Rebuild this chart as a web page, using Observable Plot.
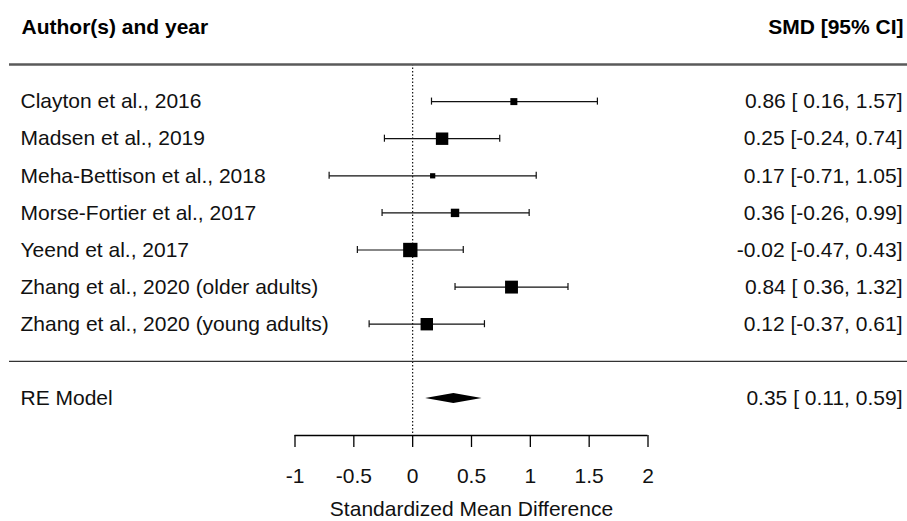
<!DOCTYPE html>
<html>
<head>
<meta charset="utf-8">
<script src="https://cdn.jsdelivr.net/npm/d3@7"></script>
<script src="https://cdn.jsdelivr.net/npm/@observablehq/plot@0.6"></script>
<style>
  html, body { margin: 0; padding: 0; background: #fff; }
  #chart svg { display: block; }
</style>
</head>
<body>
<div id="chart"></div>
<script>
// ---- data ----
const studies = [
  "Clayton et al., 2016",
  "Madsen et al., 2019",
  "Meha-Bettison et al., 2018",
  "Morse-Fortier et al., 2017",
  "Yeend et al., 2017",
  "Zhang et al., 2020 (older adults)",
  "Zhang et al., 2020 (young adults)"
];
const smd   = [0.86, 0.25, 0.17, 0.36, -0.02, 0.84, 0.12];
const lower = [0.16, -0.24, -0.71, -0.26, -0.47, 0.36, -0.37];
const upper = [1.57, 0.74, 1.05, 0.99, 0.43, 1.32, 0.61];
const weights = [8.5, 17.7, 5.5, 10.9, 21.0, 18.5, 17.7]; // % weight (square size)

const reLabel = "RE Model";
const reEst = 0.35, reLower = 0.11, reUpper = 0.59;

const xTicks = [-1, -0.5, 0, 0.5, 1, 1.5, 2];
const headerLeft = "Author(s) and year";
const headerRight = "SMD [95% CI]";
const xLabel = "Standardized Mean Difference";

// ---- build tables ----
const fmt = v => v.toFixed(2);
const padFmt = v => (v >= 0 ? " " : "") + v.toFixed(2);
const ciText = (e, l, u) => `${fmt(e)} [${padFmt(l)}, ${fmt(u)}]`;

const rows = studies.map((s, i) => ({
  study: s, smd: smd[i], lower: lower[i], upper: upper[i], w: weights[i], row: i + 1,
  label: ciText(smd[i], lower[i], upper[i])
}));
const nRows = studies.length;
const sepRow = nRows + 1;
const reRow = nRows + 2;
const axisRow = nRows + 3;
const headerRow = -1;
const labelRow = axisRow + 2;

const capH = 0.095;
const diaH = 0.135;
const diamond = [
  {x: reLower, y1: reRow, y2: reRow},
  {x: reEst, y1: reRow - diaH, y2: reRow + diaH},
  {x: reUpper, y1: reRow, y2: reRow}
];
const re = [{label: reLabel, text: ciText(reEst, reLower, reUpper), row: reRow}];
const xMin = d3.min(xTicks), xMax = d3.max(xTicks);

const font = "'Liberation Sans', Arial, Helvetica, sans-serif";

const chart = Plot.plot({
  width: 907,
  height: 521,
  marginTop: 64,
  marginBottom: 86,
  marginLeft: 0,
  marginRight: 0,
  style: {fontFamily: font, fontSize: "21px", color: "#000", background: "#fff"},
  x: {domain: [xMin, xMax], range: [294.5, 647.5]},
  y: {domain: [0, axisRow], reverse: true, axis: null},
  r: {type: "linear", domain: [d3.min(weights), d3.max(weights)], range: [2.95, 8.1]},
  marks: [
    // reference line at 0
    Plot.ruleX([0], {y1: 0, y2: axisRow, stroke: "#000", strokeWidth: 1.1, strokeDasharray: "1.5,2"}),
    // separators
    Plot.ruleY([0], {stroke: "#5a5a5a", strokeWidth: 2.4, insetLeft: 9}),
    Plot.ruleY([sepRow], {stroke: "#333", strokeWidth: 1.3, insetLeft: 9}),
    // confidence intervals
    Plot.link(rows, {x1: "lower", x2: "upper", y1: "row", y2: "row", stroke: "#111", strokeWidth: 1.2}),
    Plot.ruleX(rows, {x: "lower", y1: d => d.row - capH, y2: d => d.row + capH, stroke: "#111", strokeWidth: 1.2}),
    Plot.ruleX(rows, {x: "upper", y1: d => d.row - capH, y2: d => d.row + capH, stroke: "#111", strokeWidth: 1.2}),
    // point estimates
    Plot.dot(rows, {x: "smd", y: "row", r: "w", symbol: "square", fill: "#000"}),
    // summary diamond
    Plot.areaY(diamond, {x: "x", y1: "y1", y2: "y2", fill: "#000", curve: "linear"}),
    // left labels
    Plot.text(rows, {text: "study", y: "row", frameAnchor: "left", dx: 20, textAnchor: "start", fill: "#111"}),
    Plot.text(re, {text: "label", y: "row", frameAnchor: "left", dx: 20, textAnchor: "start", fill: "#111"}),
    // right labels
    Plot.text(rows, {text: "label", y: "row", frameAnchor: "right", dx: -5, textAnchor: "end", fill: "#111"}),
    Plot.text(re, {text: "text", y: "row", frameAnchor: "right", dx: -5, textAnchor: "end", fill: "#111"}),
    // headers
    Plot.text([headerLeft], {text: d => d, y: headerRow, frameAnchor: "left", dx: 21, textAnchor: "start", fontWeight: "bold", fill: "#000"}),
    Plot.text([headerRight], {text: d => d, y: headerRow, frameAnchor: "right", dx: -4, textAnchor: "end", fontWeight: "bold", fill: "#000"}),
    // x axis
    Plot.ruleY([axisRow], {x1: () => xMin, x2: () => xMax, stroke: "#000", strokeWidth: 1.3}),
    Plot.axisX({ticks: xTicks, anchor: "bottom", tickSize: 12, tickPadding: 21, tickFormat: d => String(d), label: null, strokeWidth: 1.3, fill: "#111"}),
    Plot.text([xLabel], {text: d => d, x: () => (xMin + xMax) / 2, y: labelRow, fill: "#111"})
  ]
});
document.getElementById("chart").appendChild(chart);
</script>
</body>
</html>
